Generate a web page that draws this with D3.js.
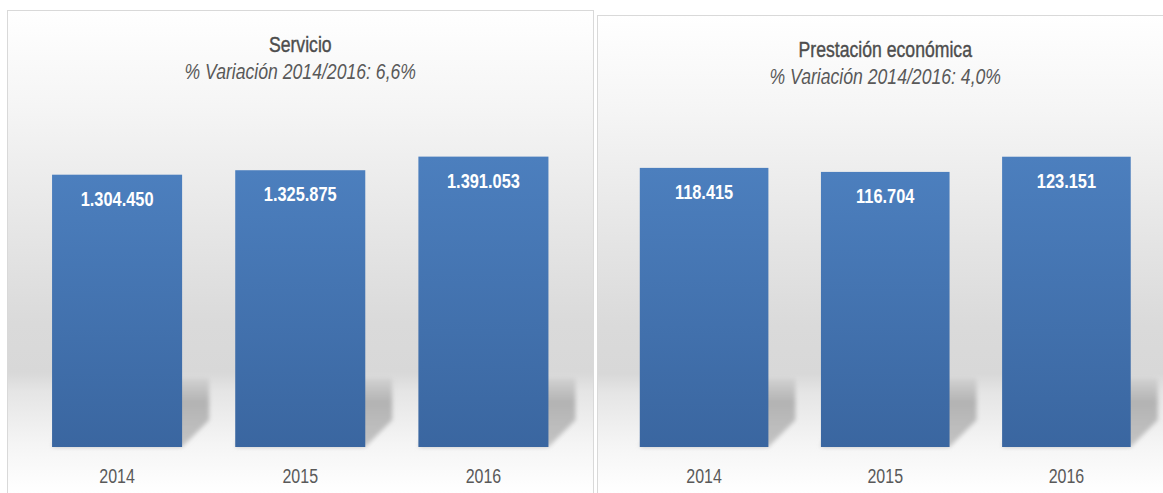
<!DOCTYPE html>
<html>
<head>
<meta charset="utf-8">
<script src="https://cdn.jsdelivr.net/npm/d3@7"></script>
<style>
  body { margin: 0; background: #fff; }
  text { font-family: "Liberation Sans", Arial, sans-serif; }
</style>
</head>
<body>
<svg id="chart" width="1163" height="493"></svg>
<script>
// data
var years = ["2014", "2015", "2016"];
var servicio = [1304450, 1325875, 1391053];
var prestacion = [118415, 116704, 123151];
var titles = ["Servicio", "Prestación económica"];
var subtitles = ["% Variación 2014/2016: 6,6%", "% Variación 2014/2016: 4,0%"];
var yMax = [1600000, 140000];

var es = d3.formatLocale({ decimal: ",", thousands: ".", grouping: [3], currency: ["", " €"] });
var fmt = es.format(",d");
var narrow = 0.82; // squeeze Liberation Sans to a narrow face

var svg = d3.select("#chart");
var defs = svg.append("defs");

var barGrad = defs.append("linearGradient")
  .attr("id", "barGrad")
  .attr("x1", 0).attr("y1", 0).attr("x2", 0).attr("y2", 1);
barGrad.append("stop").attr("offset", 0).attr("stop-color", "#4c7fbe");
barGrad.append("stop").attr("offset", 1).attr("stop-color", "#3a66a0");

var shGrad = defs.append("linearGradient")
  .attr("id", "shGrad")
  .attr("x1", 0).attr("y1", 0).attr("x2", 0).attr("y2", 1);
shGrad.append("stop").attr("offset", 0).attr("stop-color", "#d2d2d2");
shGrad.append("stop").attr("offset", 0.35).attr("stop-color", "#b3b3b3");
shGrad.append("stop").attr("offset", 1).attr("stop-color", "#c4c4c4");

defs.append("filter")
  .attr("id", "blur")
  .attr("x", "-20%").attr("y", "-20%").attr("width", "140%").attr("height", "140%")
  .append("feGaussianBlur").attr("stdDeviation", 2.2);

function bgGradient(id, top) {
  var g = defs.append("linearGradient")
    .attr("id", id)
    .attr("gradientUnits", "userSpaceOnUse")
    .attr("x1", 0).attr("y1", top).attr("x2", 0).attr("y2", 493);
  [[0, "#ffffff"], [0.2, "#f5f5f5"], [0.45, "#e6e6e6"], [0.65, "#dadada"],
   [0.75, "#d8d8d8"], [0.79, "#e5e5e5"], [0.9, "#f5f5f5"], [1, "#ffffff"]]
    .forEach(function(s) {
      g.append("stop").attr("offset", s[0]).attr("stop-color", s[1]);
    });
}

function label(g, x, y) {
  return g.append("text")
    .attr("transform", "translate(" + x + "," + y + ") scale(" + narrow + ",1)")
    .attr("text-anchor", "middle");
}

function panel(i, values, box) {
  var g = svg.append("g");
  bgGradient("bg" + i, box.top);

  g.append("rect")
   .attr("x", box.left + 0.5)
   .attr("y", box.top + 0.5)
   .attr("width", box.width)
   .attr("height", 520)
   .attr("fill", "url(#bg" + i + ")")
   .attr("stroke", "#d9d9d9");

  var x = d3.scaleBand()
    .domain(years)
    .range(box.xr)
    .paddingInner(0.29)
    .paddingOuter(0.145);

  var y = d3.scaleLinear()
    .domain([0, yMax[i]])
    .range([447, box.yTop]);

  var bw = x.bandwidth();

  // floor shadows
  g.selectAll("polygon.shadow")
   .data(years)
   .enter().append("polygon")
   .attr("class", "shadow")
   .attr("fill", "url(#shGrad)")
   .attr("filter", "url(#blur)")
   .attr("points", function(d) {
     var l = x(d), r = x(d) + bw;
     return [[l + 27, 378], [r + 27, 378], [r + 27, 420], [r, y(0)], [l, y(0)]].join(" ");
   });

  g.selectAll("rect.bar")
   .data(values)
   .enter().append("rect")
   .attr("class", "bar")
   .attr("x", function(d, j) { return x(years[j]); })
   .attr("y", function(d) { return y(d); })
   .attr("width", bw)
   .attr("height", function(d) { return y(0) - y(d); })
   .attr("fill", "url(#barGrad)");

  values.forEach(function(v, j) {
    label(g, x(years[j]) + bw / 2, y(v) + 31)
      .attr("fill", "#ffffff")
      .attr("font-weight", "bold")
      .attr("font-size", 20)
      .text(fmt(v));
  });

  var axis = d3.axisBottom(x).tickSize(0).tickPadding(0);
  var ax = g.append("g")
    .attr("transform", "translate(0,469)")
    .call(axis);
  ax.select(".domain").remove();
  ax.selectAll("text")
    .attr("fill", "#595959")
    .attr("font-size", 19.5)
    .attr("dy", "0.71em")
    .attr("transform", "scale(" + narrow + ",1)")
    .style("font-family", "'Liberation Sans', Arial, sans-serif");

  var cx = (box.xr[0] + box.xr[1]) / 2;
  label(g, cx, box.top + 42)
    .attr("fill", "#4d4d4d")
    .attr("font-size", 21.5)
    .attr("stroke", "#4d4d4d")
    .attr("stroke-width", 0.4)
    .text(titles[i]);

  label(g, cx, box.top + 69)
    .attr("fill", "#595959")
    .attr("font-size", 21.5)
    .attr("font-style", "italic")
    .text(subtitles[i]);
}

panel(0, servicio, { left: 7, top: 10, width: 586, xr: [25.5, 575], yTop: 113 });
panel(1, prestacion, { left: 597, top: 15, width: 600, xr: [613.5, 1157], yTop: 117 });
</script>
</body>
</html>
